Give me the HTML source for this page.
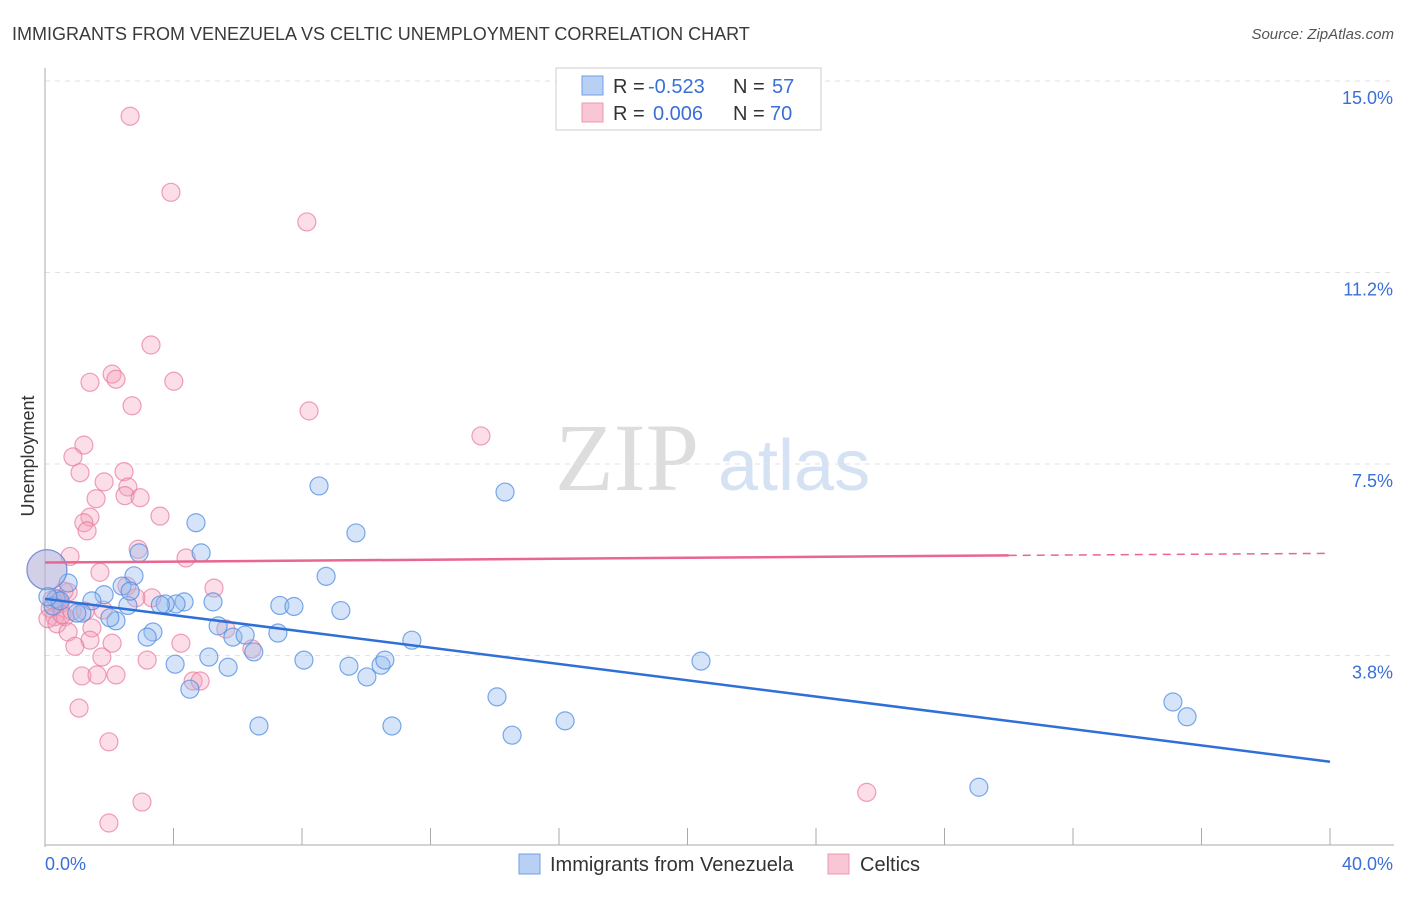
<!DOCTYPE html>
<html><head><meta charset="utf-8"><style>
body{margin:0;background:#fff;font-family:"Liberation Sans",sans-serif}
</style></head><body>
<svg width="1406" height="892" viewBox="0 0 1406 892" xmlns="http://www.w3.org/2000/svg" font-family="Liberation Sans, sans-serif">
<text x="12" y="40" font-size="18" fill="#3a3a3a">IMMIGRANTS FROM VENEZUELA VS CELTIC UNEMPLOYMENT CORRELATION CHART</text>
<text x="1394" y="39" font-size="15" fill="#555" text-anchor="end" font-style="italic">Source: ZipAtlas.com</text>
<g font-size="96"><text x="555" y="490" fill="#ddd" font-family="Liberation Serif, serif">ZIP</text><text x="718" y="490" fill="#d4e2f4" font-size="72">atlas</text></g>
<g id="grid"></g><g id="axes"></g><g id="pts"></g><g id="lines"></g>
<text transform="translate(34,456) rotate(-90)" font-size="18" fill="#333" text-anchor="middle">Unemployment</text>
<g font-size="20" fill="#333">
<rect x="556" y="68" width="265" height="62" fill="#fff" stroke="#ccc"/>
<rect x="582" y="76" width="21" height="19" fill="#b8d0f4" stroke="#6fa0e6"/>
<rect x="582" y="103" width="21" height="19" fill="#f8c6d4" stroke="#ee98b0"/>
<text x="613" y="93">R =</text><text x="648" y="93" fill="#3a6fd8">-0.523</text><text x="733" y="93">N =</text><text x="772" y="93" fill="#3a6fd8">57</text>
<text x="613" y="120">R =</text><text x="653" y="120" fill="#3a6fd8">0.006</text><text x="733" y="120">N =</text><text x="770" y="120" fill="#3a6fd8">70</text>
</g>
<g font-size="20" fill="#333">
<rect x="519" y="854" width="21" height="20" fill="#b8d0f4" stroke="#6fa0e6"/><text x="550" y="871">Immigrants from Venezuela</text>
<rect x="828" y="854" width="21" height="20" fill="#f8c6d4" stroke="#ee98b0"/><text x="860" y="871">Celtics</text>
</g>
</svg>
<script>
const yTicks=[3.75,7.5,11.25,15];
const yTickLabels=["3.8%","7.5%","11.2%","15.0%"];
const xTickLabels=["0.0%","40.0%"];
const blueX=[4.7,4.86,8.53,9.68,14.32,8.75,9.21,7.31,7.75,5.23,4.33,4.08,3.74,3.59,2.77,2.93,2.4,2.58,1.84,1.46,1.15,0.99,0.72,0.34,0.25,2.21,2.02,3.36,3.18,5.39,5.85,6.23,7.25,11.42,6.5,5.1,4.05,5.7,8.06,9.46,10.02,10.46,10.58,20.42,14.07,4.51,6.66,10.8,14.54,16.19,35.11,35.55,29.07,0.06,0.47,0.09,2.65];
const blueY=[6.35,5.76,7.07,6.15,6.95,5.3,4.63,4.73,4.71,4.8,4.8,4.76,4.76,4.74,5.31,5.76,5.11,4.73,4.94,4.82,4.58,4.58,5.17,4.86,4.72,4.43,4.49,4.21,4.11,4.33,4.11,4.15,4.19,4.05,3.82,3.72,3.58,3.52,3.66,3.54,3.33,3.56,3.66,3.64,2.94,3.09,2.37,2.37,2.19,2.47,2.84,2.55,1.17,5.43,4.82,4.9,5.01];
const pinkX=[2.65,3.92,8.15,3.3,2.09,2.21,1.4,4.01,2.71,8.22,13.57,1.21,0.87,1.09,2.46,1.84,2.58,1.59,2.49,2.96,1.4,3.58,1.21,1.31,2.9,0.78,4.39,1.71,5.26,2.55,3.33,2.83,0.72,0.4,0.16,0.47,0.31,0.62,0.09,0.37,1.81,0.72,1.46,1.4,2.09,5.63,6.44,0.93,1.77,3.18,4.23,1.15,1.62,2.21,4.61,4.83,1.06,1.99,3.02,1.99,25.58,0.06,0.22,0.53,0.84,0.59,1.25];
const pinkY=[14.31,12.82,12.24,9.83,9.26,9.16,9.1,9.12,8.64,8.54,8.05,7.87,7.64,7.33,7.35,7.15,7.05,6.82,6.88,6.84,6.46,6.48,6.35,6.19,5.83,5.69,5.66,5.38,5.07,5.11,4.88,4.88,4.99,4.86,4.67,4.76,4.51,4.51,4.47,4.37,4.64,4.21,4.29,4.05,3.99,4.27,3.88,3.93,3.72,3.66,3.99,3.35,3.37,3.37,3.25,3.25,2.72,2.06,0.88,0.47,1.07,5.43,4.84,4.55,4.62,5.01,4.62];
const blueTrend=[[0,4.86],[40,1.67]];
const pinkTrend=[[0,5.57],[30,5.71],[40,5.75]];
const ns="http://www.w3.org/2000/svg";
const X0=45,X1=1330,YB=847,PPU=766/15;
const sx=v=>X0+(v/40)*(X1-X0), sy=v=>YB-v*PPU;
function mk(t,a,p){const e=document.createElementNS(ns,t);for(const k in a)e.setAttribute(k,a[k]);p.appendChild(e);return e;}
const grid=document.getElementById('grid'),axes=document.getElementById('axes'),pts=document.getElementById('pts'),lines=document.getElementById('lines');
yTicks.forEach((t,i)=>{
 const l=mk('line',{x1:X0,x2:1394,y1:sy(t),y2:sy(t),stroke:'#e2e2e2','stroke-dasharray':'5,5'},grid);
 
 
 const tx=mk('text',{x:1393,y:sy(t)+23,'font-size':18,fill:'#3a6fd8','text-anchor':'end'},axes);
 tx.textContent=yTickLabels[i];
 
 
});
const ax=mk('line',{x1:X0,x2:X0,y1:68,y2:847,stroke:'#aaa'},axes);


const bx=mk('line',{x1:X0,x2:1394,y1:845,y2:845,stroke:'#aaa'},axes);


for(let i=1;i<=10;i++){const t=mk('line',{x1:sx(i*4),x2:sx(i*4),y1:828,y2:845,stroke:'#aaa'},axes);
 
 }
xTickLabels.forEach((s,i)=>{const t=mk('text',{x:i?1393:45,y:870,'font-size':18,fill:'#3a6fd8','text-anchor':i?'end':'start'},axes);t.textContent=s;
 
 });
pinkX.forEach((v,i)=>{const c=mk('circle',{cx:sx(v),cy:sy(pinkY[i]),r:i==61?20:9,fill:'rgba(244,160,186,0.35)',stroke:'rgba(232,120,156,0.7)','stroke-width':1.2},pts);
 
 });
blueX.forEach((v,i)=>{const c=mk('circle',{cx:sx(v),cy:sy(blueY[i]),r:i==53?20:9,fill:'rgba(150,188,238,0.4)',stroke:'rgba(80,140,225,0.75)','stroke-width':1.2},pts);
 
 });
const bl=mk('line',{x1:sx(blueTrend[0][0]),y1:sy(blueTrend[0][1]),x2:sx(blueTrend[1][0]),y2:sy(blueTrend[1][1]),stroke:'#2f6fd8','stroke-width':2.5},lines);


const pl=mk('line',{x1:sx(pinkTrend[0][0]),y1:sy(pinkTrend[0][1]),x2:sx(pinkTrend[1][0]),y2:sy(pinkTrend[1][1]),stroke:'#e8668f','stroke-width':2.5},lines);


const pd=mk('line',{x1:sx(pinkTrend[1][0]),y1:sy(pinkTrend[1][1]),x2:sx(pinkTrend[2][0]),y2:sy(pinkTrend[2][1]),stroke:'#e8668f','stroke-width':1.5,'stroke-dasharray':'8,6'},lines);


</script>
</body></html>
